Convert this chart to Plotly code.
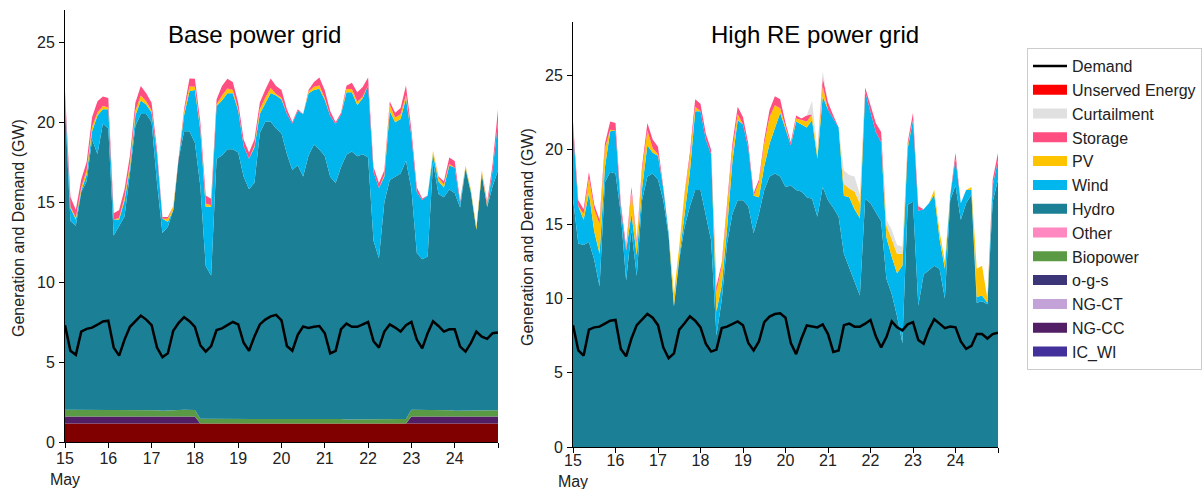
import pandas as pd
import plotly.graph_objects as go

# ---------------- time axis (3-hourly, 15 May 00:00 -> 25 May 00:00) ----------------
times = pd.date_range("2012-05-15 00:00", periods=81, freq="3h")
day_ticks = pd.date_range("2012-05-15", periods=11, freq="D")
day_labels = ["15<br>May", "16", "17", "18", "19", "20", "21", "22", "23", "24", ""]
y_ticks = [0, 5, 10, 15, 20, 25]

# ---------------- Base power grid (GW) ----------------
coal_L = [1.15] * 81
ngcc_L = [0.45, 0.45, 0.45, 0.45, 0.45, 0.45, 0.45, 0.45, 0.45, 0.45,
          0.45, 0.45, 0.45, 0.45, 0.45, 0.45, 0.45, 0.45, 0.45, 0.45,
          0.45, 0.45, 0.45, 0.45, 0.45, 0.0, 0.0, 0.0, 0.0, 0.0,
          0.0, 0.0, 0.0, 0.0, 0.0, 0.0, 0.0, 0.0, 0.0, 0.0,
          0.0, 0.0, 0.0, 0.0, 0.0, 0.0, 0.0, 0.0, 0.0, 0.0,
          0.0, 0.0, 0.0, 0.0, 0.0, 0.0, 0.0, 0.0, 0.0, 0.0,
          0.0, 0.0, 0.0, 0.0, 0.45, 0.45, 0.45, 0.45, 0.45, 0.45,
          0.45, 0.45, 0.45, 0.45, 0.45, 0.45, 0.45, 0.45, 0.45, 0.45, 0.45]
bio_L = [0.42, 0.42, 0.41, 0.41, 0.40, 0.40, 0.40, 0.40, 0.40, 0.40,
         0.40, 0.40, 0.40, 0.40, 0.40, 0.40, 0.40, 0.38, 0.36, 0.36,
         0.40, 0.40, 0.42, 0.42, 0.40, 0.30, 0.30, 0.30, 0.30, 0.30,
         0.30, 0.30, 0.30, 0.30, 0.30, 0.30, 0.32, 0.32, 0.32, 0.30,
         0.30, 0.30, 0.30, 0.30, 0.30, 0.30, 0.30, 0.28, 0.28, 0.28,
         0.28, 0.28, 0.26, 0.26, 0.26, 0.28, 0.28, 0.28, 0.28, 0.28,
         0.28, 0.28, 0.28, 0.28, 0.42, 0.42, 0.42, 0.40, 0.40, 0.40,
         0.40, 0.38, 0.36, 0.36, 0.36, 0.36, 0.36, 0.38, 0.38, 0.38, 0.38]
hydro_L = [19.0, 11.8, 11.5, 13.6, 14.3, 16.9, 16.0, 17.9, 17.6, 10.9,
           11.5, 12.1, 14.8, 17.75, 18.5, 18.5, 18.0, 14.2, 11.1, 11.5,
           12.5, 15.7, 17.4, 17.4, 16.7, 14.55, 9.55, 8.95, 16.25, 16.45,
           16.85, 16.85, 16.65, 15.15, 14.35, 14.75, 17.85, 18.55, 18.55, 18.15,
           17.85, 16.55, 15.55, 15.85, 15.15, 16.45, 17.15, 16.85, 16.45, 15.15,
           14.75, 15.75, 16.55, 16.75, 16.45, 16.55, 16.35, 11.15, 10.05, 13.55,
           14.95, 15.15, 15.35, 16.15, 13.8, 9.8, 9.4, 9.6, 15.5, 13.5,
           13.3, 13.8, 13.6, 12.7, 15.1, 13.6, 11.3, 14.8, 12.7, 14.0, 15.0]
wind_L = [0.5, 0.8, 0.4, 0.1, 0.4, 0.5, 2.4, 0.9, 1.2, 1.0,
          0.4, 1.0, 0.3, 0.65, 0.85, 0.6, 0.6, 1.8, 0.9, 0.3,
          0.0, 0.0, 1.0, 2.5, 3.3, 3.5, 3.7, 4.3, 3.3, 3.45,
          3.5, 3.5, 2.6, 1.9, 1.9, 2.2, 1.2, 1.2, 1.8, 2.05,
          2.1, 2.5, 2.9, 3.4, 3.9, 3.9, 3.4, 3.8, 3.5, 3.8,
          3.7, 3.3, 3.9, 3.7, 3.2, 3.5, 4.5, 4.3, 4.4, 1.6,
          4.3, 3.4, 3.4, 3.9, 3.3, 3.8, 3.7, 3.8, 0.5, 0.8,
          0.6, 1.5, 1.6, 0.3, 0.1, 0.1, 0.0, 0.0, 0.0, 1.0, 3.0]
pv_L = [0.0, 0.1, 0.1, 0.2, 0.3, 0.3, 0.2, 0.2, 0.1, 0.0,
        0.1, 0.2, 0.3, 0.3, 0.3, 0.2, 0.1, 0.0, 0.0, 0.2,
        0.25, 0.2, 0.2, 0.3, 0.2, 0.1, 0.2, 0.1, 0.1, 0.3,
        0.3, 0.2, 0.1, 0.0, 0.0, 0.1, 0.3, 0.3, 0.3, 0.1,
        0.1, 0.0, 0.0, 0.0, 0.0, 0.1, 0.2, 0.2, 0.1, 0.0,
        0.0, 0.0, 0.2, 0.2, 0.2, 0.1, 0.0, 0.0, 0.0, 0.1,
        0.4, 0.3, 0.3, 0.2, 0.0, 0.0, 0.0, 0.0, 0.2, 0.2,
        0.2, 0.1, 0.0, 0.0, 0.1, 0.1, 0.2, 0.2, 0.1, 0.0, 0.0]
storage_L = [0.4, 0.6, 0.5, 0.5, 0.5, 0.6, 0.7, 0.6, 0.6, 0.4,
             0.5, 0.5, 0.5, 0.5, 0.6, 0.5, 0.5, 0.3, 0.1, 0.1,
             0.0, 0.0, 0.2, 0.5, 0.5, 0.4, 0.5, 0.4, 0.3, 0.6,
             0.6, 0.5, 0.4, 0.4, 0.4, 0.4, 0.4, 0.5, 0.6, 0.5,
             0.5, 0.3, 0.1, 0.1, 0.0, 0.1, 0.3, 0.5, 0.5, 0.3,
             0.1, 0.1, 0.2, 0.4, 0.6, 0.6, 0.5, 0.3, 0.3, 0.3,
             0.2, 0.3, 0.4, 0.6, 0.4, 0.3, 0.1, 0.0, 0.0, 0.1,
             0.2, 0.4, 0.4, 0.1, 0.0, 0.0, 0.0, 0.0, 0.2, 0.4, 0.8]
demand_L = [7.3, 5.7, 5.45, 6.9, 7.07, 7.15, 7.33, 7.53, 7.58, 5.9,
            5.4, 6.4, 7.2, 7.55, 7.9, 7.65, 7.3, 5.9, 5.3, 5.55,
            6.95, 7.45, 7.8, 7.55, 7.2, 6.05, 5.65, 6.0, 7.0, 7.1,
            7.3, 7.5, 7.35, 6.2, 5.7, 6.6, 7.35, 7.65, 7.85, 7.95,
            7.6, 6.0, 5.7, 6.7, 7.22, 7.12, 7.2, 7.25, 6.8, 5.54,
            5.7, 7.05, 7.4, 7.2, 7.2, 7.35, 7.5, 6.3, 5.9, 6.9,
            7.35, 7.15, 6.9, 7.3, 7.5, 6.4, 5.85, 6.8, 7.55, 7.25,
            6.9, 7.04, 7.04, 5.96, 5.65, 6.2, 6.9, 6.58, 6.45, 6.8, 6.85]

# ---------------- High RE power grid (GW) ----------------
hydro_R = [16.7, 13.7, 13.6, 13.8, 12.6, 10.8, 17.8, 18.5, 18.4, 15.7,
           11.2, 14.6, 11.5, 16.6, 18.2, 18.4, 18.0, 16.6, 14.2, 9.45,
           12.6, 14.8, 16.2, 17.3, 17.3, 15.7, 13.9, 7.5, 9.9, 13.7,
           15.7, 16.6, 16.6, 16.2, 14.4, 15.7, 17.3, 18.2, 18.4, 18.2,
           17.5, 17.6, 17.3, 17.2, 16.8, 16.7, 15.5, 17.5, 16.6, 16.1,
           15.5, 13.0, 12.1, 11.1, 10.2, 16.7, 16.4, 15.8, 15.2, 11.3,
           10.3, 8.8, 7.0, 16.3, 16.5, 9.5, 11.6, 11.9, 12.2, 12.0,
           10.0, 16.6, 17.6, 15.3, 16.4, 17.0, 9.7, 9.8, 9.6, 16.5, 18.0]
wind_R = [4.8, 2.5, 1.7, 3.3, 1.9, 2.2, 1.0, 2.75, 2.9, 0.4,
          2.0, 1.1, 1.4, 0.8, 2.1, 1.4, 1.6, 0.8, 0.2, 0.05,
          0.2, 1.0, 2.3, 5.3, 5.3, 5.0, 5.8, 1.6, 1.0, 1.0,
          3.5, 5.4, 5.1, 3.9, 2.5, 1.1, 1.6, 2.2, 3.0, 4.3,
          3.9, 2.7, 4.6, 4.5, 4.7, 5.3, 3.9, 6.1, 6.1, 6.0,
          6.0, 3.9, 4.7, 4.9, 5.2, 7.2, 6.1, 5.4, 5.3, 2.8,
          2.5, 2.9, 5.2, 3.8, 5.5, 6.4, 4.4, 4.5, 4.8, 2.0,
          2.0, 0.3, 1.8, 1.1, 0.9, 0.3, 0.4, 0.4, 0.1, 1.1, 1.3]
pv_R = [0.0, 0.0, 0.4, 1.0, 1.5, 2.0, 1.3, 0.1, 0.0, 0.0,
        0.0, 1.5, 0.8, 1.2, 1.0, 0.3, 0.1, 0.0, 0.0, 0.8,
        0.7, 1.2, 1.0, 0.3, 0.0, 0.0, 0.0, 1.3, 1.3, 1.5,
        0.8, 0.4, 0.0, 0.0, 0.0, 1.0, 1.5, 1.8, 1.6, 0.3,
        0.1, 0.0, 0.2, 0.3, 0.4, 0.4, 0.3, 0.7, 0.0, 0.0,
        0.0, 0.8, 0.6, 1.2, 1.0, 0.0, 0.0, 0.0, 0.0, 0.8,
        1.2, 1.3, 0.8, 0.2, 0.0, 0.0, 0.0, 0.0, 0.3, 0.5,
        0.5, 0.0, 0.0, 0.0, 0.0, 0.2, 1.9, 2.0, 0.3, 0.0, 0.0]
storage_R = [0.4, 0.4, 0.3, 0.4, 0.3, 0.3, 0.3, 0.55, 0.5, 0.3,
             0.3, 0.3, 0.2, 0.3, 0.5, 0.6, 0.5, 0.1, 0.0, 0.0,
             0.0, 0.1, 0.3, 0.5, 0.5, 0.4, 0.3, 0.4, 0.2, 0.2,
             0.4, 0.5, 0.5, 0.3, 0.2, 0.2, 0.3, 0.5, 0.6, 0.6,
             0.3, 0.2, 0.2, 0.1, 0.4, 0.0, 0.0, 0.6, 0.5, 0.2,
             0.0, 0.0, 0.0, 0.0, 0.0, 0.3, 0.5, 0.6, 0.7, 0.0,
             0.0, 0.0, 0.0, 0.2, 0.5, 0.3, 0.0, 0.0, 0.0, 0.0,
             0.0, 0.0, 0.4, 0.0, 0.0, 0.0, 0.0, 0.0, 0.0, 0.4, 0.5]
curt_R = [0.0, 0.0, 0.0, 0.0, 0.0, 0.0, 0.0, 0.0, 0.0, 0.0,
          0.0, 0.0, 0.0, 0.0, 0.0, 0.0, 0.0, 0.0, 0.0, 0.0,
          0.0, 0.0, 0.0, 0.0, 0.0, 0.0, 0.0, 0.0, 0.0, 0.0,
          0.0, 0.0, 0.0, 0.0, 0.0, 0.0, 0.0, 0.0, 0.0, 0.0,
          0.0, 0.0, 0.0, 0.0, 0.0, 0.9, 0.3, 0.4, 0.0, 0.0,
          0.0, 0.9, 0.9, 1.0, 0.6, 0.0, 0.0, 0.0, 0.0, 0.4,
          0.6, 0.6, 0.5, 0.0, 0.0, 0.0, 0.0, 0.0, 0.0, 0.0,
          0.0, 0.0, 0.0, 0.0, 0.0, 0.0, 0.0, 0.0, 0.0, 0.0, 0.0]
demand_R = [8.2, 6.5, 6.15, 7.9, 8.05, 8.1, 8.3, 8.5, 8.55, 6.6,
            6.1, 7.3, 8.2, 8.6, 8.95, 8.7, 8.2, 6.7, 5.97, 6.3,
            7.9, 8.33, 8.8, 8.5, 8.05, 6.95, 6.42, 6.55, 8.0, 8.1,
            8.3, 8.45, 8.2, 7.0, 6.5, 7.1, 8.4, 8.78, 8.95, 9.0,
            8.7, 7.0, 6.25, 7.3, 8.18, 8.12, 8.05, 8.25, 7.6, 6.4,
            6.5, 8.2, 8.3, 8.1, 8.1, 8.3, 8.55, 7.45, 6.7, 7.4,
            8.45, 8.05, 7.85, 8.25, 8.4, 7.2, 6.95, 7.9, 8.6, 8.3,
            8.0, 8.1, 8.05, 7.1, 6.6, 6.8, 7.6, 7.6, 7.3, 7.6, 7.7]

# ---------------- colours ----------------
C = {
    "Coal": "#800000",
    "Unserved Energy": "#FF0000",
    "Curtailment": "#E0E0E0",
    "Storage": "#FF4F81",
    "PV": "#FFC400",
    "Wind": "#00B6EC",
    "Hydro": "#1B7F95",
    "Other": "#FF88C0",
    "Biopower": "#5B9A45",
    "o-g-s": "#3C3577",
    "NG-CT": "#C3A2D8",
    "NG-CC": "#521F66",
    "IC_WI": "#43309B",
}

fig = go.Figure()


def stack(y, name, xa, ya, group):
    fig.add_trace(go.Scatter(
        x=times, y=y, name=name, mode="lines", stackgroup=group,
        line=dict(width=0, color=C[name]), fillcolor=C[name],
        xaxis=xa, yaxis=ya, showlegend=False, hoverinfo="skip"))


# left stack (bottom -> top)
stack(coal_L, "Coal", "x", "y", "L")
stack(ngcc_L, "NG-CC", "x", "y", "L")
stack(bio_L, "Biopower", "x", "y", "L")
stack(hydro_L, "Hydro", "x", "y", "L")
stack(wind_L, "Wind", "x", "y", "L")
stack(pv_L, "PV", "x", "y", "L")
stack(storage_L, "Storage", "x", "y", "L")

# right stack (bottom -> top)
stack(hydro_R, "Hydro", "x2", "y2", "R")
stack(wind_R, "Wind", "x2", "y2", "R")
stack(pv_R, "PV", "x2", "y2", "R")
stack(storage_R, "Storage", "x2", "y2", "R")
stack(curt_R, "Curtailment", "x2", "y2", "R")

# demand lines
fig.add_trace(go.Scatter(x=times, y=demand_L, name="Demand", mode="lines",
                         line=dict(color="black", width=2.5), xaxis="x", yaxis="y",
                         showlegend=True, legendrank=1, hoverinfo="skip"))
fig.add_trace(go.Scatter(x=times, y=demand_R, name="Demand", mode="lines",
                         line=dict(color="black", width=2.5), xaxis="x2", yaxis="y2",
                         showlegend=False, hoverinfo="skip"))

# legend entries for the generation categories
legend_names = ["Unserved Energy", "Curtailment", "Storage", "PV", "Wind", "Hydro",
                "Other", "Biopower", "o-g-s", "NG-CT", "NG-CC", "IC_WI"]
for k, nm in enumerate(legend_names):
    fig.add_trace(go.Scatter(x=[None], y=[None], name=nm, mode="lines",
                             line=dict(color=C[nm], width=10), xaxis="x", yaxis="y",
                             showlegend=True, legendrank=k + 2, hoverinfo="skip"))

W, H = 1202, 489
axis_common = dict(showline=True, linecolor="black", linewidth=1, ticks="outside",
                   ticklen=5, tickwidth=1, tickcolor="black", showgrid=False,
                   zeroline=False, automargin=False,
                   tickfont=dict(size=16, color="#222222"))

fig.update_layout(
    width=W, height=H,
    margin=dict(l=0, r=0, t=0, b=0, autoexpand=False),
    paper_bgcolor="white", plot_bgcolor="white",
    font=dict(family="Liberation Sans, Arial, sans-serif", size=16, color="#222222"),
    showlegend=True,
    legend=dict(x=1027 / W, y=(H - 48) / H, xanchor="left", yanchor="top",
                bordercolor="#cccccc", borderwidth=1, bgcolor="white",
                font=dict(size=16, color="#222222"), traceorder="normal",
                itemwidth=34, tracegroupgap=0),
    xaxis=dict(domain=[65 / W, 498 / W], anchor="y", type="date",
               range=[day_ticks[0], day_ticks[-1]], ticklabelstandoff=-3,
               tickvals=day_ticks, ticktext=day_labels, **axis_common),
    yaxis=dict(domain=[(H - 442) / H, (H - 10) / H], anchor="x", range=[0, 27],
               ticklabelstandoff=1, tickvals=y_ticks, **axis_common),
    xaxis2=dict(domain=[573 / W, 998 / W], anchor="y2", type="date",
                range=[day_ticks[0], day_ticks[-1]], ticklabelstandoff=-6,
                tickvals=day_ticks, ticktext=day_labels, **axis_common),
    yaxis2=dict(domain=[(H - 447) / H, (H - 22) / H], anchor="x2", range=[0, 28.6],
                ticklabelstandoff=1, tickvals=y_ticks, **axis_common),
    annotations=[
        dict(text="Base power grid", x=254 / W, y=(H - 34) / H, xref="paper", yref="paper",
             showarrow=False, font=dict(size=24, color="black"), xanchor="center", yanchor="middle"),
        dict(text="High RE power grid", x=815 / W, y=(H - 34) / H, xref="paper", yref="paper",
             showarrow=False, font=dict(size=24, color="black"), xanchor="center", yanchor="middle"),
        dict(text="Generation and Demand (GW)", x=18 / W, y=(H - 228) / H, xref="paper",
             yref="paper", showarrow=False, textangle=-90, font=dict(size=16, color="#222222"),
             xanchor="center", yanchor="middle"),
        dict(text="Generation and Demand (GW)", x=527 / W, y=(H - 237) / H, xref="paper",
             yref="paper", showarrow=False, textangle=-90, font=dict(size=16, color="#222222"),
             xanchor="center", yanchor="middle"),
    ],
)

fig.write_html("out.html")
